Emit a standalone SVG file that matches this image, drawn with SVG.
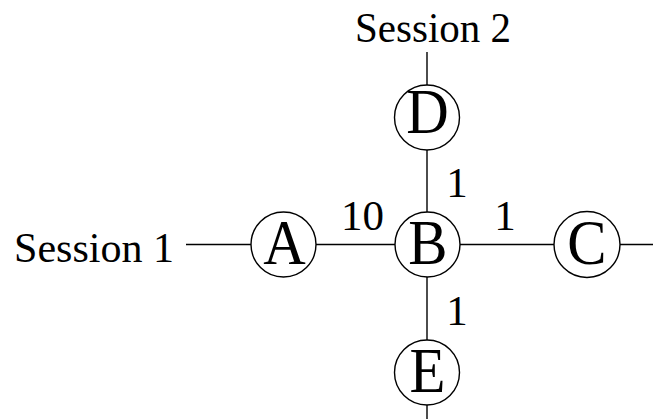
<svg xmlns="http://www.w3.org/2000/svg" width="653" height="419" viewBox="0 0 653 419">
  <style>
    .edge { stroke: #000; stroke-width: 1.4; fill: none; }
    .node circle { fill: #fff; stroke: #000; stroke-width: 1.4; }
    .node text { font-family: "Liberation Serif", "Times New Roman", serif; font-size: 64px; text-anchor: middle; fill: #000; }
    .label { font-family: "Liberation Serif", "Times New Roman", serif; font-size: 43px; fill: #000; }
  </style>
  <rect width="653" height="419" fill="#fff"/>

  <!-- links between routers, plus session stubs -->
  <g id="connectors">
    <line class="edge" x1="186" y1="244.5" x2="251" y2="244.5"/>
    <line class="edge" x1="316" y1="244.5" x2="395" y2="244.5"/>
    <line class="edge" x1="460" y1="244.5" x2="554" y2="244.5"/>
    <line class="edge" x1="620" y1="244.5" x2="653" y2="244.5"/>
    <line class="edge" x1="427" y1="52" x2="427" y2="85"/>
    <line class="edge" x1="427" y1="150" x2="427" y2="212"/>
    <line class="edge" x1="427" y1="277" x2="427" y2="340"/>
    <line class="edge" x1="427" y1="405" x2="427" y2="419"/>
  </g>

  <!-- link weights -->
  <g id="weights">
    <text class="label" x="362.5" y="230" text-anchor="middle">10</text>
    <text class="label" x="457" y="197" text-anchor="middle">1</text>
    <text class="label" x="505" y="230" text-anchor="middle">1</text>
    <text class="label" x="457" y="325" text-anchor="middle">1</text>
  </g>

  <!-- session endpoints -->
  <g id="session1">
    <text class="label" x="14" y="262" textLength="160" lengthAdjust="spacingAndGlyphs">Session 1</text>
  </g>
  <g id="session2">
    <text class="label" x="355" y="42" textLength="156" lengthAdjust="spacingAndGlyphs">Session 2</text>
  </g>

  <!-- router nodes; letters are set slightly narrow -->
  <g id="node-A" class="node">
    <circle cx="283.5" cy="244.5" r="32.5"/>
    <text transform="translate(284.5 263.5) scale(0.92 1)">A</text>
  </g>
  <g id="node-B" class="node">
    <circle cx="427.5" cy="244.5" r="32.5"/>
    <text transform="translate(428 263.5) scale(0.92 1)">B</text>
  </g>
  <g id="node-C" class="node">
    <circle cx="587" cy="244.5" r="33"/>
    <text transform="translate(587 263.5) scale(0.92 1)">C</text>
  </g>
  <g id="node-D" class="node">
    <circle cx="427" cy="117.5" r="32.5"/>
    <text transform="translate(427.5 133) scale(0.92 1)">D</text>
  </g>
  <g id="node-E" class="node">
    <circle cx="427" cy="372.5" r="32.5"/>
    <text transform="translate(427.5 391.5) scale(0.92 1)">E</text>
  </g>
</svg>
